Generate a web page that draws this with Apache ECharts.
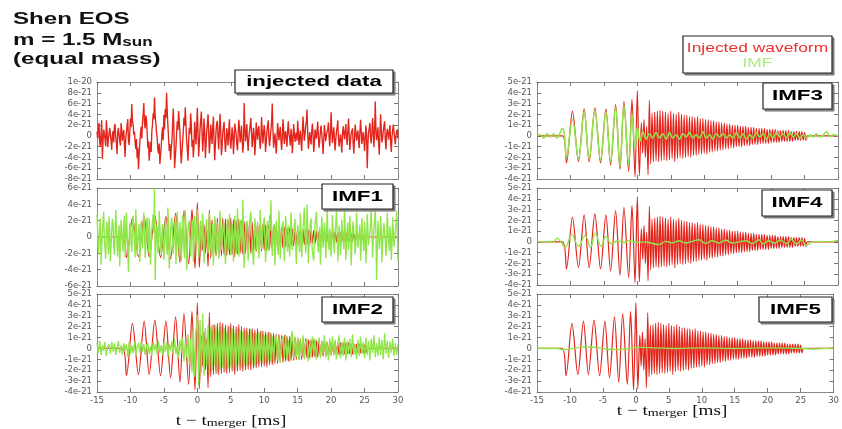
<!DOCTYPE html>
<html>
<head>
<meta charset="utf-8">
<script src="https://cdn.jsdelivr.net/npm/echarts@6/dist/echarts.min.js"></script>
<style>html,body{margin:0;padding:0;background:#fff}#c{width:842px;height:429px}</style>
</head>
<body>
<div id="c"></div>
<script>
// ---------------- DATA (strain in units of 1e-21, time in ms relative to merger) ----------------
const xTicks = [-15, -10, -5, 0, 5, 10, 15, 20, 25, 30];
const T0 = -15;          // first sample time of uniformly sampled series
const DT_FINE = 0.1;     // sample spacing (ms) of injected data and IMF1
const DT = 0.2;          // sample spacing (ms) of IMF2 and ringdown

// injected data (signal + noise), sampled every 0.1 ms from -15 to 30
const injectedData = [
  0.8, -0.5, 1.6, 2.4, -1.2, -2.0, 0.3, 2.9, -4.3, -1.1, 1.2, 0.4, -0.6, -1.9, 2.9, 1.0, -2.1, -0.7, 0.4, 1.5, 1.8, -0.9, -2.6, 0.2, 0.9, -1.2, 1.7, 2.2, -0.3, -1.4, -3.4, 0.6, 1.5, 0.2, -1.0, -1.8, 2.4, 1.1, -0.9, 0.3, 1.1, -1.6, -3.9, -0.4, 0.6, 2.0, 3.1, -0.8, -1.7, 0.5,
  3.2, 1.6, 5.9, 2.7, 2.1, 0.2, 0.8, -1.3, -2.4, -0.6, -4.1, -2.2, -6.2, -3.5, -1.3, 0.4, 1.7, -0.5, 2.6, 4.0, 6.1, 2.3, 1.4, 3.8, 3.0, 0.6, -2.2, -1.0, -4.6, -2.9, -1.1, -3.0, 0.9, 2.1, 4.2, 3.1, 7.1, 3.6, 2.4, 0.5, -0.5, -2.6, -3.3, -1.4, -5.2, -3.6, -2.1, 0.3, 1.6, -0.8,
  3.9, 1.2, 5.0, 3.3, 8.0, 4.6, 1.9, -0.4, -2.8, -1.5, -4.4, -2.3, -1.0, 2.0, 5.1, 1.3, -6.0, -3.9, -2.2, 0.4, 2.7, 1.1, 4.6, 2.5, 0.6, -2.7, -5.1, -3.0, -2.8, 0.8, 3.4, 1.9, 5.3, 2.2, -0.9, -2.4, -4.6, -1.2, 1.5, 0.3, 4.2, 2.0, -2.0, -0.7, -4.0, -1.8, 2.6, 0.9, -1.6, 1.4,
  5.2, 0.7, -3.8, -1.4, 1.2, 2.9, 4.5, 0.8, -2.9, -0.6, 3.2, 1.0, -4.1, -1.9, 0.8, 2.2, 4.0, 0.4, -3.2, -1.1, 2.1, 0.6, -1.5, 1.4, 3.6, -0.8, -4.5, -1.7, 1.0, 2.3, 2.8, -0.4, -2.5, 1.1, 4.1, 0.9, -3.6, -2.0, 0.5, 1.6, 2.6, -0.9, -3.0, -1.2, 1.4, 0.2, -1.8, 1.0, 3.1, -0.6,
  -2.4, -0.7, 1.6, 0.4, -3.4, -1.0, 2.3, 1.2, 0.4, -1.6, -2.7, 0.3, 3.0, 1.4, -1.2, -0.3, 1.9, -0.8, -3.1, -1.5, 6.1, 1.8, -1.0, 0.5, 2.2, -1.1, -2.8, -0.4, 0.9, 2.0, 3.3, 0.6, -2.1, -0.5, 1.5, 0.2, -3.6, -1.3, 2.5, 0.8, -0.7, 1.2, 1.8, -0.6, -2.4, -0.9, 3.5, 1.1, -1.4, 0.4,
  2.0, 0.5, -3.0, -1.2, 0.8, 1.9, 2.9, -0.3, -1.9, -0.4, 1.1, 2.5, 6.0, 1.2, -2.2, -0.8, 0.5, -1.4, -3.3, -0.6, 2.4, 1.0, -0.8, 0.6, 1.7, -0.9, -2.6, -0.5, 3.1, 1.3, -1.5, 0.2, 0.9, -0.7, -2.0, 1.0, 2.7, 0.4, -0.4, -1.8, 1.3, 0.3, -3.2, -1.0, 2.2, 0.7, -1.1, 0.1, 0.6, -0.9,
  2.8, 0.9, -1.7, -0.2, 1.0, -1.1, -2.8, 0.5, 3.6, 1.2, -0.9, 0.3, 1.9, 2.7, 4.9, 0.6, -2.4, -0.9, 0.7, -0.5, -1.6, 0.8, 2.3, 0.4, -3.0, -1.4, 1.2, 0.3, -0.5, 1.1, 2.6, -0.2, -2.2, -0.8, 0.9, 1.9, 1.7, -1.2, -3.4, -0.6, 2.0, 0.5, -1.0, 0.2, 0.4, 1.3, 2.5, -0.4, -1.9, 0.6,
  4.4, 1.0, -1.3, 0.4, 1.6, -0.8, -2.7, -0.6, 0.8, 1.7, 2.9, -0.5, -2.0, -0.7, 0.3, -1.2, -3.1, 0.2, 1.8, 0.6, -0.6, 0.9, 2.2, -0.4, -1.7, 1.0, 3.2, 0.3, -2.6, -1.0, 0.5, 0.9, 1.4, -1.5, -3.3, -0.2, 2.1, 0.7, -0.9, 0.1, 1.0, -0.8, -2.3, 0.6, 3.0, 1.1, -1.5, -0.3, 0.7, -0.6,
  -2.8, -0.5, 1.9, 0.4, -6.0, -1.6, 0.6, 1.5, 2.4, -0.3, -1.4, 0.8, 3.3, 0.7, -2.1, 0.5, 6.4, 1.4, -0.8, 0.2, 1.6, -1.3, -3.5, 0.4, 4.0, 1.0, -1.2, -0.4, 0.9, 1.8, 2.7, -0.7, -2.5, 0.3, 1.3, 0.5, -0.7, 0.9, 2.0, -1.1, -3.0, -0.2, 1.1, 2.1, 2.4, -0.5, -1.6, 0.1, 0.8, 1.2,
  -0.5
];

// IMF1 (green), sampled every 0.1 ms from -15 to 30
const imf1 = [
  2.8, 0.6, -2.0, -0.8, 1.1, 2.3, -3.4, -1.2, 0.6, 1.9, 3.1, -0.4, -1.5, -2.7, 0.9, 1.9, -0.4, -2.1, 2.5, 0.8, -3.0, -1.1, 0.8, 2.2, 1.6, -1.0, -2.2, 0.5, 3.3, 1.2, -1.1, -2.4, 0.3, 1.5, -3.6, -0.9, 2.1, 1.0, -0.7, -1.8, 1.4, 2.6, -2.5, -0.6, 3.0, 0.7, -1.6, -4.3, -0.8, 1.7,
  1.2, -0.7, -1.8, 0.9, 2.6, 1.1, -0.9, -2.5, 3.4, 0.8, -2.3, -0.6, 0.5, 1.6, -3.1, -1.0, 2.0, 0.4, -1.4, 1.2, 3.0, 0.3, -2.6, -1.1, 1.7, 2.4, -0.2, -1.9, 2.3, 0.6, -3.4, -1.2, 0.9, 2.0, 2.8, 0.5, 6.0, -5.3, -1.0, 1.5, 0.7, -2.0, -0.6, 3.2, 1.3, -1.0, -2.1, 0.4, 1.6, -0.9,
  -2.8, -0.9, 2.2, 0.8, -1.3, -2.2, 3.6, 1.4, -3.9, -1.5, 0.7, 1.8, 2.4, -0.6, -2.1, -0.8, 1.0, 2.2, -3.3, -1.1, 3.1, 1.2, -0.6, -2.0, 1.8, 0.5, -2.9, -1.0, 2.7, 0.9, -1.5, -2.6, 3.3, 1.1, -4.0, -1.4, 0.8, 1.7, 2.0, -0.7, -2.4, -0.5, 1.2, 2.1, -3.0, -0.9, 2.6, 0.7, -0.8, 1.3,
  3.4, 0.9, -2.6, -1.0, 1.3, 2.0, -1.7, -0.5, 2.9, 0.8, -3.2, -1.3, 0.6, 1.5, 2.2, -0.7, -2.0, 0.4, 3.0, 1.1, -1.2, -2.3, 0.4, 1.6, -3.5, -1.0, 2.5, 0.9, -0.9, -1.9, 1.8, 0.3, -2.7, -0.9, 3.2, 1.0, -1.6, -0.4, 0.9, 2.0, 2.1, -0.8, -3.3, -1.2, 1.1, 2.2, -0.5, -1.5, 2.8, 0.6,
  -2.2, -0.7, 1.5, 0.5, -3.0, -1.1, 2.6, 0.9, -0.7, -2.0, 3.5, 1.2, -2.4, -0.8, 1.0, 2.1, -1.8, -0.3, 4.6, 0.9, -3.8, -1.4, 0.6, 1.7, 2.0, -0.6, -2.9, -1.0, 1.3, 2.4, 3.1, 0.7, -1.1, -2.2, -3.4, -0.8, 2.3, 0.6, -0.4, -1.6, 1.7, 0.4, -2.6, -0.9, 3.3, 1.0, -1.5, -0.5, 0.9, 1.8,
  2.4, 0.5, -3.1, -1.2, 1.2, 2.0, -0.6, -1.7, 2.7, 0.8, 4.5, 0.9, -2.3, -0.7, 0.7, 1.6, -3.5, -1.1, 2.0, 0.6, -1.4, -2.2, 3.2, 1.0, -2.7, -0.9, 0.5, 1.4, 1.9, -0.4, -3.0, -1.0, 2.6, 0.8, -0.9, -1.8, 1.4, 0.4, -2.4, -0.6, 3.0, 1.1, -1.6, -0.5, 0.3, 1.5, 2.2, -0.9, -3.3, -1.0,
  1.5, 0.4, -0.8, -1.9, 2.9, 0.8, -2.5, -0.7, 1.1, 2.2, 3.6, 0.6, -2.0, -0.5, 4.0, 1.1, -3.2, -1.2, 0.8, 1.7, 2.3, -0.4, -1.7, -2.4, -2.9, -0.6, 1.6, 2.3, 3.1, 0.7, -1.0, -1.9, 0.4, 1.2, -3.4, -1.0, 2.5, 0.9, -1.3, -0.3, 1.8, 0.5, -2.6, -0.8, 3.4, 1.0, -0.7, -1.6, 1.0, 0.2,
  -2.4, -0.6, 2.7, 0.9, -1.1, -2.0, 0.6, 1.6, 3.2, 0.7, -3.0, -1.2, 1.4, 0.3, -2.2, -0.7, 2.1, 0.6, -0.5, -1.5, 3.7, 1.0, -2.8, -0.9, 1.0, 1.8, -1.6, -0.4, 2.6, 0.8, -3.5, -1.1, 0.9, 1.9, 1.7, -0.5, -2.1, -0.8, 3.0, 1.0, -1.3, -0.2, 0.4, 1.5, -2.9, -1.0, 2.3, 0.7, -0.8, -1.7,
  1.9, 0.5, -3.2, -1.1, 2.8, 0.9, -1.0, -0.2, 0.5, 1.6, 3.3, 0.8, -2.5, -0.7, 1.2, 2.0, 3.5, 0.2, -5.3, -1.6, 2.0, 0.6, -1.5, -0.4, 2.6, 1.0, -3.1, -1.0, 0.8, 1.7, 1.6, -0.5, -2.3, -0.8, 3.0, 0.9, -0.6, -1.7, 1.3, 0.4, -2.8, -1.0, 2.4, 0.8, -1.2, -0.3, 0.7, 1.6, 3.2, 0.3,
  -3.0
];

// IMF2 (green), sampled every 0.2 ms from -15 to 30
const imf2 = [
  0.5, -0.4, 0.7, -0.6, 0.3, -0.2, 0.6, -0.7, 0.2, 0.4, -0.5, 0.6, -0.3, 0.5, -0.6, 0.1, 0.7, -0.4, 0.3, -0.6, 0.5, -0.2, 0.4, -0.8, 0.6,
  -0.5, 0.3, -0.4, 0.6, -0.7, 0.2, 0.5, -0.4, 0.7, -0.3, 0.4, -0.6, 0.3, 0.5, -0.5, 0.2, -0.7, 0.6, -0.2, 0.4, -0.5, 0.7, -0.4, 0.3, -0.6,
  0.5, -0.3, 0.6, -0.8, 0.4, -0.2, 0.7, -0.6, 0.9, -0.5, 0.3, -0.9, 0.8, -0.4, 1.0, -1.2, 0.6, -0.8, 1.3, -1.5, 0.9, -2.2, 1.8, -2.6, 1.5,
  3.1, -3.4, 2.6, -2.2, 3.2, -2.5, 1.9, -1.6, 2.1, -2.4, 1.8, -2.0, 2.2, -1.5, 2.0, -2.3, 1.6, -1.9, 2.1, -1.7, 1.9, -2.1, 1.5, -1.8, 2.0,
  -1.6, 1.8, -2.0, 1.4, -1.7, 1.9, -1.3, 1.6, -1.8, 1.5, -1.4, 1.7, -1.6, 1.2, -1.5, 1.8, -1.2, 1.4, -1.6, 1.3, -1.4, 1.5, -1.1, 1.6, -1.3,
  1.2, -1.4, 1.3, -1.0, 1.5, -1.2, 1.1, -1.3, 0.9, 1.2, -1.1, 1.0, -1.3, 0.8, 1.1, -0.9, 1.3, -1.0, 0.7, -1.2, 1.0, 1.6, -0.9, 1.1, -0.8,
  1.0, -1.1, 0.8, -0.7, 1.2, -1.0, 0.6, 0.9, -1.2, 0.7, -0.8, 1.1, -0.6, 0.9, -1.0, 0.5, 1.0, -0.9, 0.7, -0.5, 1.2, -0.8, 0.6, -1.1, 0.9,
  -0.7, 1.1, -0.6, 0.8, -1.0, 0.5, 1.2, -0.9, 0.6, -0.7, 1.0, -1.1, 0.7, -0.5, 0.9, -0.8, 1.3, -0.6, 0.4, -1.0, 0.8, -0.7, 1.1, -0.5, 0.6,
  -0.9, 1.0, -0.6, 0.7, -1.1, 0.9, -0.4, 1.2, -0.8, 0.5, -0.7, 1.0, -0.6, 0.8, -1.0, 1.4, -0.5, 0.7, -0.9, 0.6, -0.4, 0.9, -0.7, 0.5, -0.6, 0.4
];

// injected waveform (red): inspiral extrema, then ringdown sampled every 0.2 ms from 0.6 ms, then flat tail
const inspiralT = [-15, -11.2, -10.6, -9.7, -8.8, -7.95, -7.2, -6.35, -5.5, -4.7, -4.0, -3.25, -2.6, -2.0, -1.3, -0.8, -0.35, 0.0, 0.3];
const inspiralH = [0, 0, -2.5, 2.3, -2.4, 2.5, -2.4, 2.6, -2.5, 2.5, -2.7, 2.9, -3.1, 3.2, -3.3, 3.4, -3.8, 4.2, -3.7];
const ringT0 = 0.6;
const ringH = [
  1.2, -1.6, 1.5, -2.0, 0.9, -3.6, 3.3, -2.6, 2.1, -2.4, 2.2, -2.3, 2.3,
  -2.4, 2.4, -2.3, 2.3, -2.2, 2.2, -2.3, 2.1, -2.2, 2.3,
  -2.1, 2.1, -2.4, 2.0, -2.1, 2.2, -2.0, 2.0, -2.1, 1.9,
  -2.0, 1.9, -1.9, 1.8, -2.0, 1.8, -1.8, 1.7, -1.8, 1.8,
  -1.7, 1.6, -1.7, 1.6, -1.6, 1.5, -1.7, 1.5, -1.5, 1.4,
  -1.5, 1.4, -1.4, 1.3, -1.4, 1.3, -1.3, 1.2, -1.3, 1.2,
  -1.2, 1.1, -1.2, 1.1, -1.1, 1.0, -1.1, 1.0, -1.0, 1.0,
  -1.0, 0.9, -1.0, 0.9, -0.9, 0.9, -0.9, 0.8, -0.9, 0.8,
  -0.8, 0.8, -0.8, 0.7, -0.8, 0.7, -0.7, 0.7, -0.7, 0.7,
  -0.7, 0.6, -0.7, 0.6, -0.6, 0.6, -0.6, 0.6, -0.6, 0.5,
  -0.6, 0.5, -0.5, 0.5, -0.5, 0.5, -0.5, 0.5, -0.5, 0.4,
  -0.5, 0.4, -0.4, 0.4, -0.4, 0.4, -0.4, 0.4, -0.4, 0.3,
  -0.4, 0.0
];
const tailT = [25.8, 30];
const tailH = [0, 0];

// IMF3 / IMF4 / IMF5 (green) as (time, value) points
const imf3T = [-15, -14.5, -14, -13.5, -13, -12.5, -12, -11.6, -11.2, -10.9, -10.6, -9.7, -8.8, -7.95, -7.2, -6.35, -5.5, -4.7, -4.0, -3.25, -2.6, -2.0, -1.3, -0.8, -0.35, 0.0, 0.4, 0.8, 1.3, 1.8, 2.3, 2.8, 3.3, 3.8, 4.3, 4.8, 5.3, 5.8, 6.3, 6.8, 7.3, 7.8, 8.3, 8.8, 9.3, 9.8, 10.3, 10.8, 11.3, 11.8, 12.3, 12.8, 13.3, 13.8, 14.3, 14.8, 15.3, 15.8, 16.3, 16.8, 17.3, 17.8, 18.3, 18.8, 19.3, 19.8, 20.3, 20.8, 21.3, 21.8, 22.3, 22.8, 23.3, 23.8, 24.3, 24.8, 25.3, 25.8, 26.3, 26.8, 27.3, 27.8, 28.3, 28.8, 29.3, 30];
const imf3H = [0, 0.1, -0.2, 0.2, -0.1, 0.2, -0.2, 0.2, 0.7, 0.1, -2.0, 1.5, -2.1, 2.2, -2.1, 2.3, -2.2, 2.2, -2.4, 2.6, -2.8, 2.8, -2.6, 2.0, -1.2, 0.8, -0.5, 0.4, -0.3, 0.2, -0.2, 0.3, -0.2, 0.2, -0.3, 0.3, -0.2, 0.1, -0.3, 0.2, -0.1, 0.3, -0.2, 0.1, -0.2, 0.4, -0.2, 0.1, -0.3, 0.2, -0.1, 0.2, -0.2, 0.1, -0.2, 0.3, -0.2, 0.2, -0.3, 0.1, -0.2, 0.3, -0.1, 0.2, -0.3, 0.2, -0.2, 0.3, -0.1, 0.2, -0.2, 0.3, -0.1, 0.2, -0.2, 0.1, -0.2, 0.1, -0.1, 0.2, -0.1, 0.1, 0.4, -0.1, 0.1, 0];
const imf4T = [-15, -13.5, -12.6, -12.0, -10.8, -9.8, -8.8, -7.8, -7.0, -6.3, -5.4, -4.7, -3.8, -3.0, -2.0, -1.2, 0.0, 1.0, 2.0, 3.2, 4.3, 5.2, 6.2, 7.2, 8.2, 9.2, 10.2, 11.2, 12.2, 13.2, 14.2, 15.2, 16.2, 17.2, 18.2, 18.8, 19.6, 20.5, 21.4, 22.3, 23.0, 23.8, 24.5, 25.3, 26.2, 27.5, 28.8, 30];
const imf4H = [0, 0.05, -0.05, 0.35, -0.5, 0.7, -0.4, 0.6, -0.5, 0.8, -0.4, 0.5, -0.2, 0.1, -0.05, 0.1, -0.05, 0.0, -0.1, -0.25, 0.05, -0.1, 0.1, -0.1, 0.05, 0.2, -0.15, 0.1, -0.1, 0.15, -0.1, 0.0, 0.1, -0.15, 0.2, -0.2, 0.1, -0.1, 0.15, -0.15, 0.25, -0.2, 0.15, -0.3, 0.0, 0.05, 0.0, 0.15];
const imf5T = [-15, -12, -11, -9, -7.5, -5.5, -3.5, -1.5, 0.5, 3, 6, 10, 15, 20, 25, 27, 30];
const imf5H = [0, 0.0, -0.1, 0.05, 0.15, 0.05, -0.1, -0.05, 0.1, 0.05, 0.0, 0.05, 0.0, 0.05, 0.0, -0.05, 0.05];

const panelNames = ['injected data', 'IMF1', 'IMF2', 'IMF3', 'IMF4', 'IMF5'];
const yRanges = [[-8, 10, 2], [-6, 6, 2], [-4, 5, 1], [-4, 5, 1], [-4, 5, 1], [-4, 5, 1]];

// ---------------- BUILD ----------------
const uniform = (arr, dt) => arr.map((v, i) => [+(T0 + i * dt).toFixed(2), v]);
const pairs = (ts, hs) => ts.map((t, i) => [t, hs[i]]);
const waveform = pairs(inspiralT, inspiralH)
  .concat(ringH.map((v, i) => [+(ringT0 + i * DT).toFixed(2), v]))
  .concat(pairs(tailT, tailH));

const RED = '#e3241b';
const GREEN = '#8fe649';
const SANS = "'Liberation Sans', Arial, sans-serif";
const TICKF = "'DejaVu Sans', sans-serif";

const grids = [
  { left: 97, top: 82, width: 301, height: 97 },
  { left: 97, top: 188, width: 301, height: 98 },
  { left: 97, top: 294, width: 301, height: 98 },
  { left: 537, top: 82, width: 301, height: 97 },
  { left: 537, top: 188, width: 301, height: 97 },
  { left: 537, top: 294, width: 301, height: 98 }
];

const axisLine = { show: true, onZero: false, lineStyle: { color: '#8a8a8a', width: 1 } };
const tick = { show: true, inside: true, length: 4, lineStyle: { color: '#777' } };
const yFmt = (v) => v === 0 ? '0' : (Math.abs(v) >= 10 ? (v / 10) + 'e-20' : v + 'e-21');

const xAxes = [], yAxes = [];
grids.forEach((g, i) => {
  const showX = (i === 2 || i === 5);
  xAxes.push({ type: 'value', gridIndex: i, position: 'bottom', min: xTicks[0], max: xTicks[xTicks.length - 1], interval: 5,
    axisLine, axisTick: tick, splitLine: { show: false },
    axisLabel: { show: showX, margin: 4, fontSize: 8.5, fontFamily: TICKF, color: '#555' } });
  xAxes.push({ type: 'value', gridIndex: i, position: 'top', min: xTicks[0], max: xTicks[xTicks.length - 1], interval: 5,
    axisLine, axisTick: tick, splitLine: { show: false }, axisLabel: { show: false } });
  const r = yRanges[i];
  yAxes.push({ type: 'value', gridIndex: i, position: 'left', min: r[0], max: r[1], interval: r[2],
    axisLine, axisTick: tick, splitLine: { show: false },
    axisLabel: { margin: 5, fontSize: 8.5, fontFamily: TICKF, color: '#555', formatter: yFmt } });
  yAxes.push({ type: 'value', gridIndex: i, position: 'right', min: r[0], max: r[1], interval: r[2],
    axisLine, axisTick: tick, splitLine: { show: false }, axisLabel: { show: false } });
});

const line = (i, data, color, width, smooth, z) => ({
  type: 'line', xAxisIndex: 2 * i, yAxisIndex: 2 * i, data, showSymbol: false, symbol: 'none',
  smooth: smooth, lineStyle: { color, width }, z, animation: false, silent: true
});

const series = [
  line(0, uniform(injectedData, DT_FINE), RED, 1.35, false, 2),
  line(1, waveform, RED, 1.2, 0.3, 2),
  line(1, uniform(imf1, DT_FINE), GREEN, 1.35, false, 3),
  line(2, waveform, RED, 1.2, 0.3, 2),
  line(2, uniform(imf2, DT), GREEN, 1.3, false, 3),
  line(3, waveform, RED, 1.2, 0.3, 2),
  line(3, pairs(imf3T, imf3H), GREEN, 1.6, 0.4, 3),
  line(4, waveform, RED, 1.2, 0.3, 2),
  line(4, pairs(imf4T, imf4H), GREEN, 1.4, 0.4, 3),
  line(5, waveform, RED, 1.2, 0.3, 2),
  line(5, pairs(imf5T, imf5H), GREEN, 1.4, 0.4, 3)
];

// ---------------- ANNOTATIONS ----------------
function txt(x, y, text, font, fill, sx, align) {
  return { type: 'text', x, y, scaleX: sx, z: 101,
    style: { text, font, fill, textAlign: align || 'center', textVerticalAlign: 'middle' } };
}
function box(x, y, w, h) {
  return [
    { type: 'rect', z: 100, shape: { x: x + 2, y: y + 2, width: w, height: h }, style: { fill: '#888', stroke: '#777', lineWidth: 1 } },
    { type: 'rect', z: 100, shape: { x, y, width: w, height: h }, style: { fill: '#fff', stroke: '#222', lineWidth: 1.2 } }
  ];
}
const labelBoxes = [
  [235, 70, 158, 23, 15, 1.48],
  [322, 184, 71, 25, 14, 1.6],
  [322, 297, 71, 25, 14, 1.6],
  [763, 83, 69, 26, 14, 1.6],
  [762, 190, 70, 26, 14, 1.6],
  [759, 297, 73, 25, 14, 1.6]
];
const graphic = [];
labelBoxes.forEach((b, i) => {
  graphic.push(...box(b[0], b[1], b[2], b[3]));
  graphic.push(txt(b[0] + b[2] / 2, b[1] + b[3] / 2 + 0.5, panelNames[i], 'bold ' + b[4] + 'px ' + SANS, '#000', b[5]));
});
// legend
graphic.push(...box(683, 36, 149, 37));
graphic.push(txt(757.5, 48, 'Injected waveform', '13px ' + SANS, '#ee2f2f', 1.34));
graphic.push(txt(757.5, 63, 'IMF', '13px ' + SANS, '#a6ef78', 1.34));
// title
graphic.push(txt(13, 19, 'Shen EOS', 'bold 17px ' + SANS, '#111', 1.42, 'left'));
graphic.push({ type: 'text', x: 13, y: 39, scaleX: 1.42, z: 101, style: {
  text: '{a|m = 1.5 M}{b|sun}', textAlign: 'left', textVerticalAlign: 'middle',
  rich: { a: { font: 'bold 17px ' + SANS, fill: '#111', verticalAlign: 'bottom', lineHeight: 20 },
          b: { font: 'bold 12px ' + SANS, fill: '#111', verticalAlign: 'bottom', lineHeight: 18 } } } });
graphic.push(txt(13, 59, '(equal mass)', 'bold 17px ' + SANS, '#111', 1.42, 'left'));
// x axis titles
function xTitle(cx, cy) {
  return { type: 'text', x: cx, y: cy, scaleX: 1.28, z: 101, style: {
    text: '{a|t \u2212 t}{b|merger}{a| [ms]}', textAlign: 'center', textVerticalAlign: 'middle',
    rich: { a: { font: '15px "Liberation Serif", serif', fill: '#111', verticalAlign: 'bottom', lineHeight: 18 },
            b: { font: '11px "Liberation Serif", serif', fill: '#111', verticalAlign: 'bottom', lineHeight: 16 } } } };
}
graphic.push(xTitle(231, 420));
graphic.push(xTitle(672, 410));

const chart = echarts.init(document.getElementById('c'), null, { renderer: 'canvas' });
chart.setOption({
  animation: false,
  backgroundColor: '#fff',
  grid: grids,
  xAxis: xAxes,
  yAxis: yAxes,
  series,
  graphic
});
</script>
</body>
</html>
